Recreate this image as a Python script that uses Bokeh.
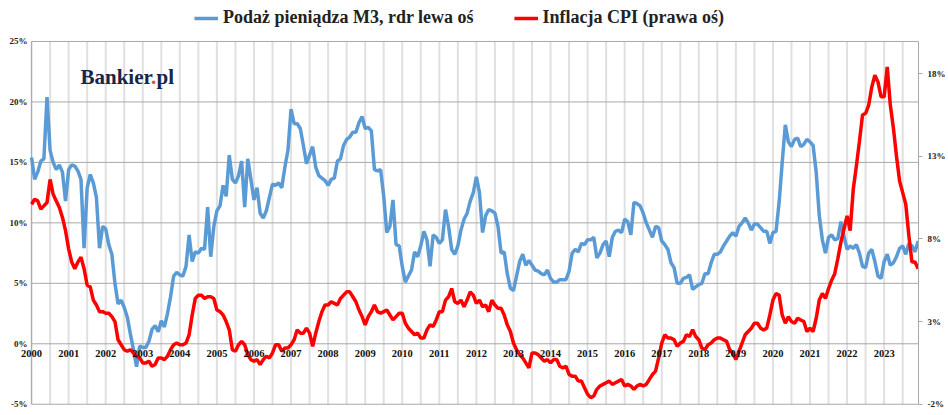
from bokeh.plotting import figure
from bokeh.models import Range1d, LinearAxis, Legend, LegendItem, FixedTicker, Label, LabelSet, ColumnDataSource, CustomJSTickFormatter
from bokeh.embed import file_html
from bokeh.resources import INLINE

years = list(range(2000, 2024))
m3 = [
 15.4,13.6,14.2,15.1,15.3,20.4,16.0,15.0,14.4,14.8,14.2,11.8,
 14.4,14.8,14.7,14.3,13.6,7.9,12.9,14.0,13.3,12.1,7.9,9.7,
 9.5,8.2,7.4,5.0,3.3,3.6,3.0,2.2,0.8,-0.5,-1.9,-0.2,
 -0.3,-0.3,0.2,1.2,1.5,1.0,1.9,1.4,2.5,3.9,5.6,5.9,
 5.7,5.6,6.4,9.0,6.8,7.6,7.5,7.9,7.8,11.3,7.2,9.7,
 11.0,11.4,13.1,12.2,15.6,13.6,13.3,13.9,15.1,11.3,15.3,13.6,
 11.9,12.9,10.8,10.4,11.0,12.1,13.2,13.1,13.3,12.9,14.6,16.0,
 19.4,18.2,18.2,17.8,16.4,14.9,15.6,16.3,14.6,13.9,13.7,13.5,
 13.1,13.6,13.7,15.1,15.3,16.4,16.9,17.1,17.5,17.5,18.3,18.8,
 17.8,17.9,17.6,14.4,14.3,14.4,12.2,9.2,9.7,11.9,8.2,8.1,
 6.4,5.1,5.6,6.1,7.6,7.2,8.1,9.3,8.6,6.4,9.0,8.8,
 8.3,8.6,11.1,9.7,7.8,7.4,8.1,9.4,10.3,10.8,11.8,12.5,
 13.8,12.5,9.2,10.6,11.1,11.0,10.8,9.7,7.5,7.6,5.8,4.6,
 4.4,5.6,6.8,7.4,6.5,6.9,6.5,6.1,6.0,5.8,5.7,6.1,
 5.4,5.1,5.1,5.3,5.3,5.3,6.0,7.5,7.8,7.6,8.3,8.2,
 8.6,8.6,8.8,7.1,7.5,8.2,8.5,7.2,8.8,9.3,9.4,9.2,
 10.3,10.1,9.0,11.7,11.6,11.4,10.8,10.0,9.4,8.8,9.7,9.6,
 8.5,8.2,7.8,6.7,6.3,5.0,5.0,5.4,5.5,5.7,4.5,4.7,
 4.9,5.0,5.8,5.8,6.7,7.4,7.4,7.6,8.1,8.5,8.9,9.2,
 8.9,9.7,10.0,10.4,10.0,9.4,9.9,9.9,9.6,9.3,9.3,8.3,
 9.2,9.3,11.7,15.0,18.1,16.7,16.3,16.9,17.0,16.3,16.5,16.9,
 16.7,16.4,14.2,10.6,8.6,7.5,8.8,9.0,8.6,8.7,10.1,8.9,
 7.8,8.1,7.9,8.2,7.5,6.4,6.3,7.5,7.8,6.8,5.6,5.4,
 6.8,7.4,6.5,6.7,7.2,7.9,8.1,7.4,8.3,8.1,7.6,8.5]
cpi = [
 10.1,10.4,10.3,9.8,10.0,10.2,11.6,10.7,10.3,9.9,9.3,8.5,
 7.4,6.6,6.2,6.6,6.9,6.2,5.2,5.1,4.3,4.0,3.6,3.6,
 3.5,3.5,3.3,3.0,1.9,1.6,1.3,1.2,1.3,1.1,0.9,0.8,
 0.5,0.5,0.6,0.3,0.4,0.8,0.8,0.7,0.9,1.3,1.6,1.7,
 1.6,1.6,1.7,2.2,3.4,4.4,4.6,4.6,4.4,4.5,4.5,4.4,
 3.7,3.6,3.4,3.0,2.5,1.3,1.2,1.6,1.8,1.6,1.0,0.7,
 0.6,0.7,0.4,0.7,0.9,0.8,1.1,1.6,1.6,1.2,1.4,1.4,
 1.6,1.9,2.5,2.3,2.3,2.6,2.3,1.5,2.3,3.0,3.6,4.0,
 4.0,4.2,4.1,4.0,4.4,4.6,4.8,4.8,4.5,4.2,3.7,3.3,
 2.8,3.3,3.6,4.0,3.6,3.5,3.6,3.7,3.4,3.1,3.3,3.5,
 3.5,2.9,2.6,2.4,2.2,2.3,2.0,2.0,2.5,2.8,2.7,3.1,
 3.6,3.6,4.3,4.5,5.0,4.2,4.1,4.3,3.9,4.3,4.8,4.6,
 4.1,4.3,3.9,4.0,3.6,4.3,4.0,3.8,3.8,3.4,2.8,2.4,
 1.7,1.3,1.0,0.8,0.5,0.2,1.1,1.1,1.0,0.8,0.6,0.7,
 0.5,0.7,0.7,0.3,0.2,0.3,-0.2,-0.3,-0.3,-0.6,-0.6,-1.0,
 -1.4,-1.6,-1.5,-1.1,-0.9,-0.8,-0.7,-0.6,-0.8,-0.7,-0.6,-0.5,
 -0.9,-0.8,-0.9,-1.1,-0.9,-0.8,-0.9,-0.8,-0.5,-0.2,0.0,0.8,
 1.7,2.2,2.0,2.0,1.9,1.5,1.7,1.8,2.2,2.1,2.5,2.1,
 1.9,1.4,1.3,1.6,1.7,1.9,2.0,2.0,1.9,1.8,1.3,1.1,
 0.7,1.2,1.7,2.2,2.4,2.6,2.9,2.9,2.6,2.5,2.6,3.4,
 4.3,4.7,4.6,3.4,2.9,3.3,3.0,2.9,3.2,3.1,3.0,2.4,
 2.6,2.4,3.2,4.3,4.7,4.4,5.0,5.5,5.9,6.8,7.8,8.6,
 9.4,8.5,11.0,12.4,13.9,15.5,15.6,16.1,17.2,17.9,17.5,16.6,
 16.6,18.4,16.1,14.7,13.0,11.5,10.8,10.1,8.2,6.6,6.6,6.2]
left_ticks = [-5, 0, 5, 10, 15, 20, 25]
right_ticks = [-2, 3, 8, 13, 18]

x = [2000 + i / 12 for i in range(len(m3))]
serif = "Liberation Serif"
half_years = [2000 + k / 2 for k in range(0, 49)]
x_end = 2000 + 287 / 12 + 0.01
x_start = 2000 - 31 / 37

p = figure(width=948, height=411, output_backend="svg", toolbar_location=None,
           x_range=Range1d(x_start, x_end), y_range=Range1d(-5.6, 27.81),
           min_border_left=0, min_border_right=23, min_border_top=7, min_border_bottom=0)
p.extra_y_ranges = {"r": Range1d(-2.44, 22.0)}
p.outline_line_color = None
p.xaxis.visible = False
p.yaxis.visible = False
p.grid.visible = False

p.segment(x0=half_years, x1=half_years, y0=[-5] * len(half_years), y1=[25] * len(half_years),
          line_color="#e0e0e0", line_width=2, level="underlay")
p.segment(x0=[2000] * len(left_ticks), x1=[x_end] * len(left_ticks), y0=left_ticks, y1=left_ticks,
          line_color="#a8a8a8", line_width=1, level="underlay")
p.segment(x0=[2000], x1=[2000], y0=[-5], y1=[25], line_color="#a8a8a8", line_width=1, level="underlay")

lsrc = ColumnDataSource(dict(x=[2000.0] * len(left_ticks), y=left_ticks, t=[f"{v}%" for v in left_ticks]))
p.add_layout(LabelSet(x="x", y="y", text="t", source=lsrc, text_font=serif, text_font_style="bold",
                      text_font_size="9px", text_align="right", text_baseline="middle",
                      x_offset=-4, text_color="#222222"))

fmt = CustomJSTickFormatter(code="return tick + '%';")
ra = LinearAxis(y_range_name="r", ticker=FixedTicker(ticks=right_ticks), formatter=fmt, bounds=(-2, 19.95))
p.add_layout(ra, "right")
ra.axis_line_color = "#a8a8a8"
ra.major_tick_line_color = "#a8a8a8"
ra.minor_tick_line_color = None
ra.major_tick_out = 4
ra.major_tick_in = 0
ra.major_label_text_font = serif
ra.major_label_text_font_style = "bold"
ra.major_label_text_font_size = "9px"
ra.major_label_text_color = "#222222"

ysrc = ColumnDataSource(dict(x=[float(y) for y in years], y=[0] * len(years), t=[str(y) for y in years]))
p.add_layout(LabelSet(x="x", y="y", text="t", source=ysrc, text_font=serif, text_font_style="bold",
                      text_font_size="10.5px", text_align="center", text_baseline="top",
                      y_offset=-6, text_color="#111111"))

l1 = p.line(x, m3, line_color="#5b9bd5", line_width=3.5)
l2 = p.line(x, cpi, line_color="#ff0000", line_width=3.5, y_range_name="r")

p.add_layout(Label(x=2001.32, y=22.1, text="Bankier", text_font=serif, text_font_style="bold",
                   text_font_size="21px", text_color="#16254a", text_baseline="alphabetic"))
p.add_layout(Label(x=2003.22, y=22.1, text=".", text_font=serif, text_font_style="bold",
                   text_font_size="21px", text_color="#e8501e", text_baseline="alphabetic"))
p.add_layout(Label(x=2003.37, y=22.1, text="pl", text_font=serif, text_font_style="bold",
                   text_font_size="21px", text_color="#16254a", text_baseline="alphabetic"))

legend = Legend(items=[LegendItem(label="Podaż pieniądza M3, rdr lewa oś", renderers=[l1]),
                       LegendItem(label="Inflacja CPI (prawa oś)", renderers=[l2])],
                orientation="horizontal", location="top_center")
legend.label_text_font = serif
legend.label_text_font_style = "bold"
legend.label_text_font_size = "18px"
legend.label_text_color = "#222222"
legend.border_line_color = None
legend.background_fill_alpha = 0
legend.glyph_width = 24
legend.spacing = 40
legend.padding = 0
legend.margin = 0
p.add_layout(legend, "center")

open("out.html", "w").write(file_html(p, INLINE))
